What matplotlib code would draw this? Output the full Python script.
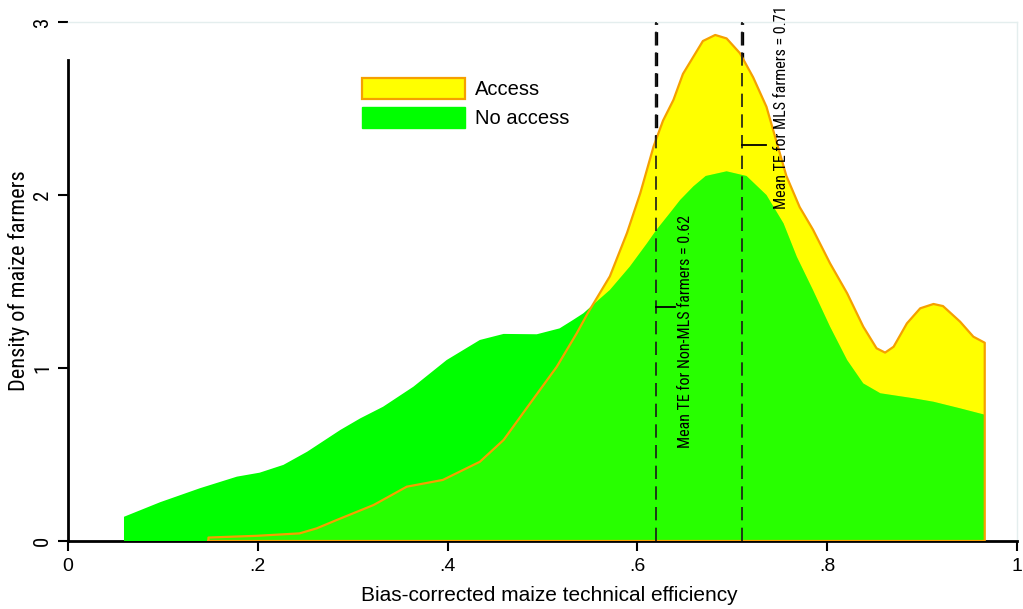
import numpy as np
import matplotlib
matplotlib.use("Agg")
import matplotlib.pyplot as plt
from matplotlib.patches import Patch

# kernel density curves
x_noacc = [0.059, 0.097, 0.139, 0.178, 0.202, 0.227, 0.252, 0.287, 0.308, 0.332,
           0.364, 0.399, 0.434, 0.459, 0.494, 0.518, 0.532, 0.543, 0.571, 0.592,
           0.61, 0.62, 0.634, 0.645, 0.659, 0.672, 0.694, 0.715, 0.736, 0.754,
           0.768, 0.785, 0.803, 0.821, 0.838, 0.856, 0.891, 0.912, 0.94, 0.966]
y_noacc = [0.14, 0.224, 0.305, 0.372, 0.395, 0.44, 0.516, 0.642, 0.709, 0.776,
           0.892, 1.046, 1.162, 1.197, 1.195, 1.229, 1.277, 1.316, 1.451, 1.586,
           1.72, 1.798, 1.894, 1.971, 2.05, 2.11, 2.137, 2.11, 2.00, 1.836,
           1.643, 1.451, 1.239, 1.046, 0.911, 0.854, 0.825, 0.805, 0.767, 0.73]

x_acc = [0.148, 0.199, 0.244, 0.262, 0.283, 0.322, 0.357, 0.395, 0.434, 0.459,
         0.487, 0.515, 0.536, 0.548, 0.571, 0.589, 0.603, 0.617, 0.627, 0.638,
         0.648, 0.669, 0.682, 0.694, 0.708, 0.722, 0.736, 0.747, 0.757, 0.771,
         0.785, 0.803, 0.821, 0.838, 0.852, 0.861, 0.870, 0.884, 0.898, 0.912,
         0.922, 0.94, 0.954, 0.966]
y_acc = [0.02, 0.03, 0.044, 0.073, 0.121, 0.208, 0.314, 0.353, 0.458, 0.584,
         0.796, 1.007, 1.2, 1.32, 1.53, 1.78, 2.01, 2.28, 2.43, 2.55,
         2.70, 2.89, 2.925, 2.905, 2.82, 2.68, 2.51, 2.30, 2.11, 1.93,
         1.80, 1.605, 1.432, 1.239, 1.114, 1.089, 1.123, 1.258, 1.345, 1.37,
         1.358, 1.268, 1.181, 1.146]

mean_nonmls = 0.62
mean_mls = 0.71
lbl_mls = 'Mean TE for MLS farmers = 0.71'
lbl_nonmls = 'Mean TE for Non-MLS farmers = 0.62'

narrow = ['Roboto Condensed', 'DejaVu Sans']
plt.rcParams['font.family'] = ['Liberation Sans', 'DejaVu Sans']

fig = plt.figure(figsize=(10.23, 6.09), dpi=100)
ax = fig.add_axes([68/1023, 1 - 541/609, 949/1023, 519/609])

yellow = '#ffff00'
green = '#00ff00'
orange = '#f5a000'

xa = np.r_[x_acc[0], x_acc, x_acc[-1]]
ya = np.r_[0, y_acc, 0]
xn = np.r_[x_noacc[0], x_noacc, x_noacc[-1]]
yn = np.r_[0, y_noacc, 0]

ax.fill(xa, ya, facecolor=yellow, edgecolor='none', zorder=2)
gpatch = ax.fill(xn, yn, facecolor=green, edgecolor='none', zorder=3)[0]
# slight yellow tint where the two densities overlap
tint = ax.fill(xa, ya, facecolor=yellow, alpha=0.16, edgecolor='none', zorder=3.1)[0]
tint.set_clip_path(gpatch)
ax.plot(np.r_[xa, xa[0]], np.r_[ya, 0], color=orange, lw=1.6, zorder=3.5)

# mean lines: bold dashes above the curves, thinner ones through the fills
for m in (mean_nonmls, mean_mls):
    ax.plot([m, m], [0, 3], color='black', lw=2.4, ls=(0, (4.0, 2.2)), zorder=1)
    ax.plot([m, m], [0, 3], color='#1a1a1a', lw=1.2, ls=(0, (8.0, 4.4)), zorder=4)

ax.plot([0.71, 0.735], [2.29, 2.29], color='black', lw=1.3, zorder=5)
ax.text(0.752, 1.92, lbl_mls, rotation=90, ha='center', va='bottom',
        fontsize=11.5, family=narrow, zorder=5)
ax.plot([0.62, 0.64], [1.35, 1.35], color='black', lw=1.3, zorder=5)
ax.text(0.651, 0.54, lbl_nonmls, rotation=90, ha='center', va='bottom',
        fontsize=11.5, family=narrow, zorder=5)

ax.set_xlim(0, 1)
ax.set_ylim(0, 3)
ax.set_xticks([0, 0.2, 0.4, 0.6, 0.8, 1])
ax.set_xticklabels(['0', '.2', '.4', '.6', '.8', '1'], fontsize=14)
ax.set_yticks([0, 1, 2, 3])
ax.set_yticklabels(['0', '1', '2', '3'], fontsize=15, family=narrow,
                   rotation=90, va='center')
ax.tick_params(direction='out', length=7.5, width=1.5)
ax.tick_params(axis='x', pad=5)
ax.tick_params(axis='y', pad=4)

for s in ('left', 'bottom'):
    ax.spines[s].set_linewidth(2)
ax.spines['left'].set_bounds(0, 2.78)
for s in ('top', 'right'):
    ax.spines[s].set_color('#e4eeee')
    ax.spines[s].set_linewidth(1)

ax.set_xlabel('Bias-corrected maize technical efficiency', fontsize=15)
ax.xaxis.set_label_coords(0.507, -0.086)
ax.set_ylabel('Density of maize farmers', fontsize=16, family=narrow)
ax.yaxis.set_label_coords(-0.04, 0.501)

handles = [Patch(facecolor=yellow, edgecolor=orange, lw=1.6, label='Access'),
           Patch(facecolor=green, edgecolor=green, label='No access')]
ax.legend(handles=handles, loc='upper left', bbox_to_anchor=(0.31, 0.892),
          frameon=False, fontsize=14.5, handlelength=5.1, handleheight=1.25,
          handletextpad=0.5, labelspacing=0.35, borderaxespad=0, borderpad=0)

fig.savefig('out.png', dpi=100)
